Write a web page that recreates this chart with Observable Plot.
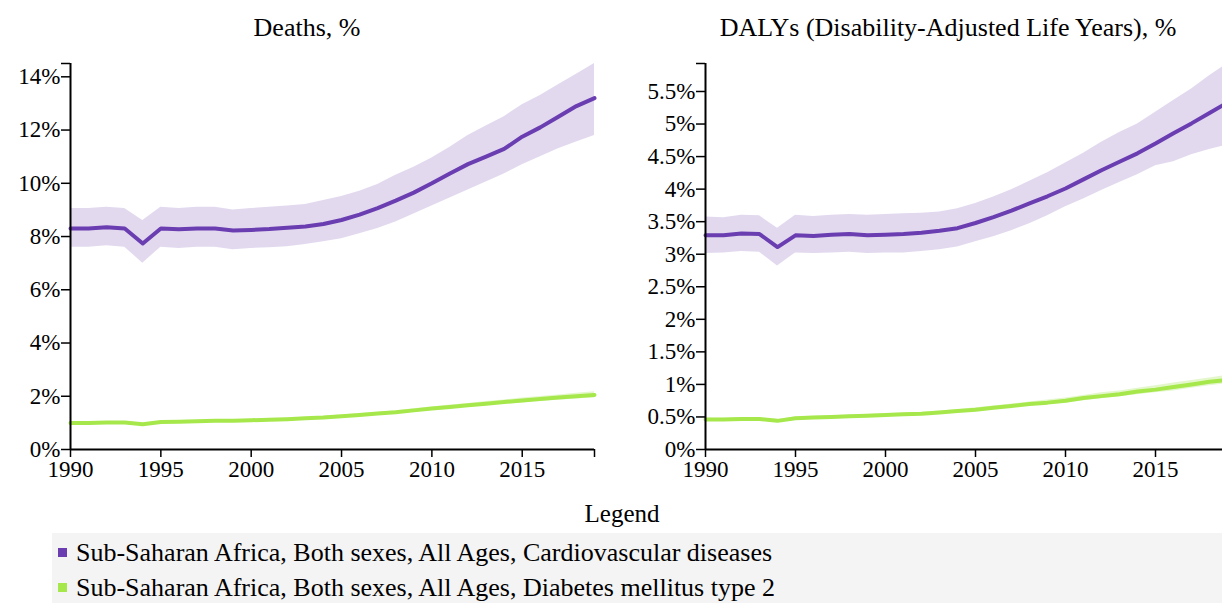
<!DOCTYPE html>
<html><head><meta charset="utf-8">
<script src="https://cdn.jsdelivr.net/npm/d3@7"></script>
<script src="https://cdn.jsdelivr.net/npm/@observablehq/plot@0.6"></script>
<style>
html,body{margin:0;padding:0;width:1222px;height:603px;overflow:hidden;background:#fff;font-family:"Liberation Serif","Times New Roman",Tinos,"DejaVu Serif",serif;color:#000;}
#root{position:relative;width:1222px;height:603px;overflow:hidden;}
.title{position:absolute;top:15px;font-size:26px;line-height:1;transform:translateX(-50%);white-space:nowrap;}
.chart{position:absolute;top:0;}
.chart svg{max-width:none !important;display:block;}
#legtitle{position:absolute;left:622px;top:501px;font-size:25px;line-height:1;transform:translateX(-50%);}
#legbox{position:absolute;left:52px;top:533px;width:1180px;height:75px;background:#f4f4f4;}
.item{position:absolute;left:6px;font-size:26px;line-height:1;white-space:nowrap;}
.sw{display:inline-block;width:9px;height:9px;margin-right:9px;vertical-align:middle;position:relative;top:-3px;}
</style></head>
<body><div id="root">
<div class="title" style="left:307px">Deaths, %</div>
<div class="title" style="left:948px">DALYs (Disability-Adjusted Life Years), %</div>
<div id="left" class="chart" style="left:0;width:614px"></div>
<div id="right" class="chart" style="left:614px;width:640px"></div>
<div id="legtitle">Legend</div>
<div id="legbox"></div>
</div>
<script>
const years = [1990,1991,1992,1993,1994,1995,1996,1997,1998,1999,2000,2001,2002,2003,2004,2005,2006,2007,2008,2009,2010,2011,2012,2013,2014,2015,2016,2017,2018,2019];
const seriesNames = ["Sub-Saharan Africa, Both sexes, All Ages, Cardiovascular diseases","Sub-Saharan Africa, Both sexes, All Ages, Diabetes mellitus type 2"];
const seriesColors = ["#6a3db1","#a6e84c"];
const bandColors = ["#e2d9ef","#e4f7cc"];

// Deaths, %
const deathsCvd   = [8.3,8.3,8.35,8.3,7.74,8.3,8.27,8.3,8.3,8.23,8.25,8.28,8.33,8.38,8.47,8.62,8.82,9.07,9.35,9.65,10.0,10.37,10.72,11.0,11.29,11.75,12.1,12.5,12.9,13.2];
const deathsCvdHi = [9.05,9.05,9.1,9.05,8.6,9.1,9.05,9.1,9.1,9.0,9.05,9.1,9.15,9.2,9.35,9.5,9.7,9.95,10.3,10.6,10.95,11.35,11.8,12.15,12.5,12.95,13.3,13.7,14.1,14.5];
const deathsCvdLo = [7.6,7.6,7.65,7.6,7.0,7.6,7.55,7.6,7.6,7.5,7.55,7.58,7.62,7.7,7.8,7.92,8.1,8.3,8.55,8.85,9.15,9.45,9.75,10.05,10.35,10.7,11.0,11.3,11.55,11.8];
const deathsDm    = [1.0,1.0,1.01,1.01,0.95,1.03,1.04,1.06,1.08,1.08,1.1,1.12,1.14,1.17,1.2,1.25,1.3,1.35,1.4,1.47,1.54,1.6,1.66,1.72,1.78,1.84,1.9,1.95,2.0,2.05];
const deathsDmHi  = [1.04,1.04,1.05,1.05,0.99,1.07,1.08,1.1,1.12,1.12,1.14,1.16,1.18,1.21,1.25,1.3,1.35,1.4,1.46,1.53,1.6,1.67,1.73,1.8,1.86,1.93,1.99,2.05,2.11,2.17];
const deathsDmLo  = [0.96,0.96,0.97,0.97,0.91,0.99,1.0,1.02,1.04,1.04,1.06,1.08,1.1,1.13,1.15,1.2,1.25,1.3,1.34,1.41,1.48,1.53,1.59,1.64,1.7,1.75,1.81,1.85,1.9,1.94];

// DALYs, %
const dalyCvd   = [3.29,3.29,3.32,3.31,3.11,3.29,3.28,3.3,3.31,3.29,3.3,3.31,3.33,3.36,3.4,3.48,3.57,3.67,3.78,3.89,4.01,4.15,4.29,4.42,4.55,4.7,4.86,5.01,5.17,5.33];
const dalyCvdHi = [3.57,3.56,3.6,3.59,3.4,3.6,3.58,3.6,3.61,3.6,3.61,3.62,3.63,3.65,3.7,3.78,3.88,3.99,4.12,4.25,4.4,4.55,4.72,4.87,5.0,5.18,5.36,5.54,5.74,5.93];
const dalyCvdLo = [3.01,3.02,3.04,3.03,2.82,3.02,3.01,3.02,3.03,3.01,3.02,3.02,3.04,3.07,3.11,3.19,3.27,3.36,3.47,3.59,3.73,3.85,3.98,4.1,4.22,4.36,4.42,4.53,4.61,4.68];
const dalyDm    = [0.46,0.46,0.47,0.47,0.44,0.48,0.49,0.5,0.51,0.52,0.53,0.54,0.55,0.57,0.59,0.61,0.64,0.67,0.7,0.72,0.75,0.79,0.82,0.85,0.89,0.92,0.96,1.0,1.04,1.07];
const dalyDmHi  = [0.48,0.48,0.49,0.49,0.46,0.5,0.51,0.52,0.53,0.54,0.55,0.56,0.57,0.59,0.61,0.64,0.67,0.7,0.73,0.76,0.79,0.83,0.87,0.9,0.94,0.98,1.02,1.06,1.1,1.14];
const dalyDmLo  = [0.44,0.44,0.45,0.45,0.42,0.46,0.47,0.48,0.49,0.5,0.51,0.52,0.53,0.55,0.57,0.58,0.61,0.64,0.67,0.69,0.71,0.75,0.78,0.81,0.84,0.87,0.9,0.94,0.98,1.01];

const xTicks = [1990,1995,2000,2005,2010,2015];
const deathsTicks = [0,2,4,6,8,10,12,14];
const dalyTicks = [0,0.5,1,1.5,2,2.5,3,3.5,4,4.5,5,5.5];

function rows(vals, lo, hi, s) {
  return years.map((year, i) => ({year, value: vals[i], lo: lo[i], hi: hi[i], s}));
}

function chart({width, marginLeft, marginRight, yMax, yTicks, data}) {
  const black = "#000";
  return Plot.plot({
    width, height: 485,
    marginTop: 63, marginBottom: 36, marginLeft, marginRight,
    style: {fontFamily: "'Liberation Serif','Times New Roman',Tinos,'DejaVu Serif',serif", fontSize: "23px", color: black, background: "transparent", overflow: "visible"},
    x: {domain: [1990, 2019], label: null},
    y: {domain: [0, yMax], label: null},
    marks: [
      ...data.map((d, k) => Plot.areaY(d, {x: "year", y1: "lo", y2: "hi", fill: bandColors[k]})),
      ...data.map((d, k) => Plot.lineY(d, {x: "year", y: "value", stroke: seriesColors[k], strokeWidth: 4})),
      Plot.ruleX([1990], {stroke: black, strokeWidth: 2}),
      Plot.ruleY([0], {stroke: black, strokeWidth: 2}),
      Plot.axisY({ticks: yTicks, tickFormat: d => d + "%", tickSize: 9, tickPadding: 1, strokeWidth: 1.5, label: null}),
      Plot.axisY({ticks: [yMax], tickFormat: () => "", tickSize: 9, strokeWidth: 1.5, label: null}),
      Plot.axisX({ticks: xTicks, tickFormat: d => String(d), tickSize: 8, tickPadding: 3, strokeWidth: 1.5, label: null}),
      Plot.axisX({ticks: [2019], tickFormat: () => "", tickSize: 8, strokeWidth: 1.5, label: null})
    ]
  });
}

document.getElementById("left").append(chart({
  width: 614, marginLeft: 70, marginRight: 20, yMax: 14.5, yTicks: deathsTicks,
  data: [rows(deathsCvd, deathsCvdLo, deathsCvdHi, 0), rows(deathsDm, deathsDmLo, deathsDmHi, 1)]
}));
document.getElementById("right").append(chart({
  width: 640, marginLeft: 91, marginRight: 27, yMax: 5.93, yTicks: dalyTicks,
  data: [rows(dalyCvd, dalyCvdLo, dalyCvdHi, 0), rows(dalyDm, dalyDmLo, dalyDmHi, 1)]
}));

const box = document.getElementById("legbox");
seriesNames.forEach((name, k) => {
  const div = document.createElement("div");
  div.className = "item";
  div.style.top = (k === 0 ? 7 : 42) + "px";
  const sw = document.createElement("span");
  sw.className = "sw";
  sw.style.background = seriesColors[k];
  div.append(sw, document.createTextNode(name));
  box.append(div);
});
</script>
</body></html>
